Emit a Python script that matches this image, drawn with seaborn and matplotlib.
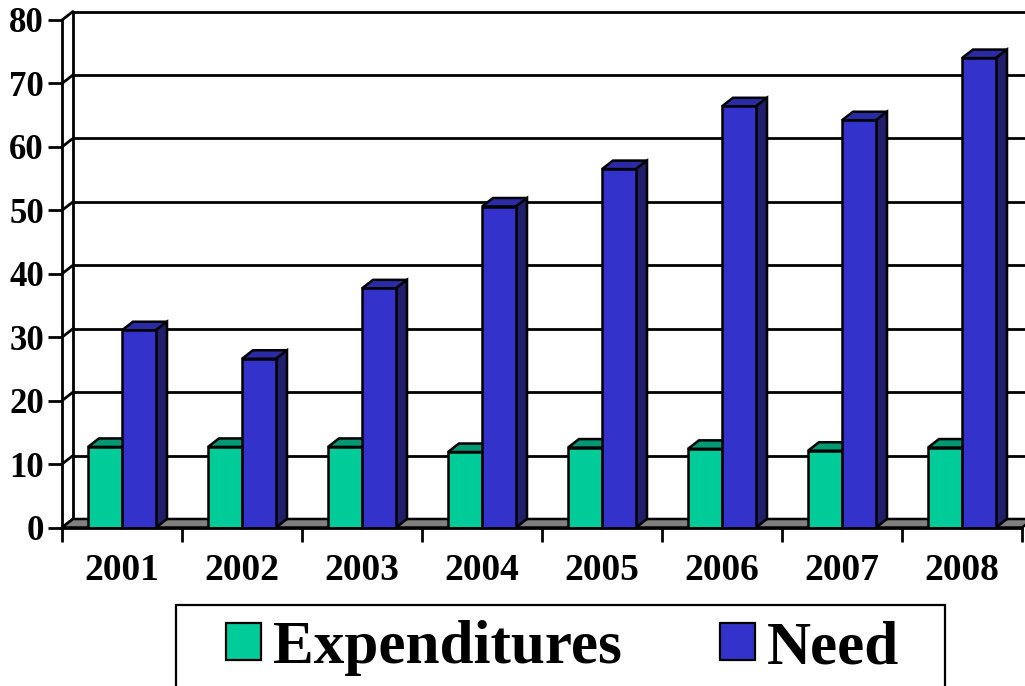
import numpy as np
import pandas as pd
import matplotlib
matplotlib.use("Agg")
import matplotlib.pyplot as plt
import seaborn as sns
from matplotlib.patches import Polygon, Rectangle, Patch

# Data
years = ["2001", "2002", "2003", "2004", "2005", "2006", "2007", "2008"]
expenditures = [12.7, 12.7, 12.7, 11.9, 12.6, 12.4, 12.1, 12.6]
need = [31.1, 26.6, 37.7, 50.6, 56.5, 66.4, 64.2, 74.0]
series_names = ["Expenditures", "Need"]
yticks = list(range(0, 81, 10))

front_colors = ["#00CC99", "#3333CC"]
top_colors = ["#009973", "#2B2BA8"]
side_color = "#1F1F6B"

df = pd.DataFrame({
    "year": years * 2,
    "value": expenditures + need,
    "series": [series_names[0]] * len(years) + [series_names[1]] * len(years),
})

sns.set_style("white")
plt.rcParams["font.family"] = ["Liberation Serif", "DejaVu Serif"]
plt.rcParams["font.weight"] = "bold"
plt.rcParams["text.color"] = "black"
plt.rcParams["xtick.color"] = "black"
plt.rcParams["ytick.color"] = "black"
plt.rcParams["axes.edgecolor"] = "black"

W, H = 1025, 686
fig = plt.figure(figsize=(W / 100, H / 100), dpi=100)
ax = fig.add_axes([62 / W, (H - 527.5) / H, 960 / W, 507.5 / H])

sns.barplot(data=df, x="year", y="value", hue="series", palette=front_colors,
            width=0.567, edgecolor="black", linewidth=1.8, saturation=1,
            legend=False, ax=ax, zorder=3)
ax.set_xlim(-0.5, 7.5)
ax.set_ylim(0, 80)

# depth offset (pixels) converted to data units
depth_px = (11, 8.5)
p0 = ax.transData.inverted().transform(ax.transData.transform((0, 0)))
p1 = ax.transData.inverted().transform(ax.transData.transform((0, 0)) + np.array(depth_px))
dx, dy = p1 - p0

# back wall gridlines, left wall and diagonals
for v in yticks:
    ax.plot([-0.5 + dx, 7.5 + dx + 1], [v + dy, v + dy], color="black", lw=2,
            zorder=0.5, clip_on=False)
    ax.plot([-0.5, -0.5 + dx], [v, v + dy], color="black", lw=2, zorder=0.5, clip_on=False)
ax.plot([-0.5 + dx, -0.5 + dx], [dy, 80 + dy], color="black", lw=2, zorder=0.5, clip_on=False)

# floor
floor = Polygon([(-0.5, 0), (7.5, 0), (7.5 + dx, dy), (-0.5 + dx, dy)], closed=True,
                facecolor="#808080", edgecolor="black", lw=1.8, zorder=1, clip_on=False)
ax.add_patch(floor)

# 3D faces for the bars
for i, cont in enumerate(ax.containers):
    for bar in cont:
        x0 = bar.get_x()
        x1 = x0 + bar.get_width()
        h = bar.get_height()
        z = 2.5 + i
        bar.set_zorder(z + 0.2)
        top = Polygon([(x0, h), (x1, h), (x1 + dx, h + dy), (x0 + dx, h + dy)], closed=True,
                      facecolor=top_colors[i], edgecolor="black", lw=1.8, zorder=z,
                      clip_on=False)
        ax.add_patch(top)
        side = Polygon([(x1, 0), (x1 + dx, dy), (x1 + dx, h + dy), (x1, h)], closed=True,
                       facecolor=side_color if i == 1 else top_colors[i], edgecolor="black",
                       lw=1.8, zorder=z, clip_on=False)
        ax.add_patch(side)

# axes styling
for s in ["top", "right"]:
    ax.spines[s].set_visible(False)
ax.spines["left"].set_linewidth(2)
ax.spines["bottom"].set_linewidth(2)
ax.spines["left"].set_zorder(6)
ax.spines["bottom"].set_zorder(6)

ax.set_yticks(yticks)
ax.set_yticklabels([str(v) for v in yticks], fontsize=25, fontweight="bold")
ax.tick_params(axis="y", length=10, width=2, pad=3, left=True, color="black")
ax.set_xticks(range(len(years)))
ax.set_xticklabels(years, fontsize=27, fontweight="bold")
ax.set_xticks(np.arange(-0.5, len(years)), minor=True)
ax.tick_params(axis="x", which="major", length=0, pad=18)
ax.tick_params(axis="x", which="minor", length=10, width=2, bottom=True, color="black")
ax.set_xlabel("")
ax.set_ylabel("")

# legend with its own box
fig.patches.append(Rectangle((176 / W, -0.05), (945 - 176) / W, (H - 605) / H + 0.05,
                             transform=fig.transFigure, facecolor="white",
                             edgecolor="black", lw=1.6, zorder=0))
handles = [Patch(facecolor=c, edgecolor="black", lw=1.6) for c in front_colors]
fig.legend(handles, series_names, loc="center left",
           bbox_to_anchor=(226 / W, 1 - 648 / H), ncol=2, frameon=False,
           prop={"family": "Liberation Serif", "weight": "bold", "size": 44},
           handlelength=0.57, handleheight=0.57, handletextpad=0.2,
           columnspacing=1.6, borderpad=0, borderaxespad=0)

fig.savefig("out.png", dpi=100)
